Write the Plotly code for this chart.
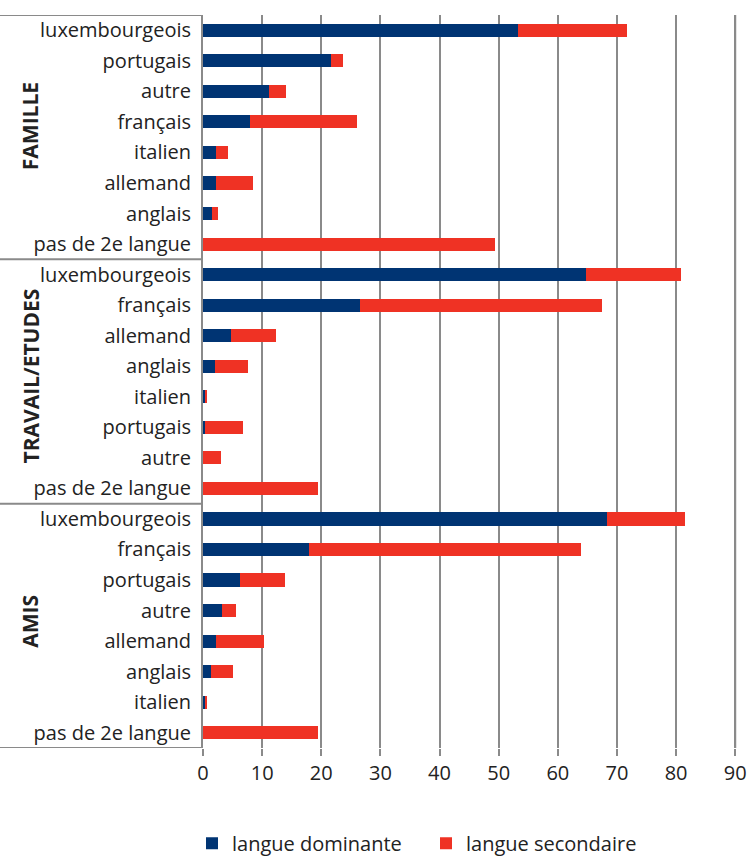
import plotly.graph_objects as go

# Groups of contexts and the languages listed in each
groups = ["FAMILLE", "TRAVAIL/ETUDES", "AMIS"]

famille_langues = ["luxembourgeois", "portugais", "autre", "français",
                   "italien", "allemand", "anglais", "pas de 2e langue"]
famille_dominante = [53.2, 21.7, 11.1, 7.9, 2.2, 2.2, 1.5, 0]
famille_secondaire = [18.5, 2.0, 2.9, 18.2, 2.0, 6.3, 1.1, 49.4]

travail_langues = ["luxembourgeois", "français", "allemand", "anglais",
                   "italien", "portugais", "autre", "pas de 2e langue"]
travail_dominante = [64.7, 26.5, 4.7, 2.0, 0.45, 0.4, 0, 0]
travail_secondaire = [16.1, 41.0, 7.6, 5.6, 0.15, 6.3, 3.1, 19.4]

amis_langues = ["luxembourgeois", "français", "portugais", "autre",
                "allemand", "anglais", "italien", "pas de 2e langue"]
amis_dominante = [68.4, 18.0, 6.2, 3.2, 2.2, 1.4, 0.5, 0]
amis_secondaire = [13.1, 45.9, 7.6, 2.3, 8.1, 3.6, 0.2, 19.5]

x_ticks = [0, 10, 20, 30, 40, 50, 60, 70, 80, 90]

labels = famille_langues + travail_langues + amis_langues
dominante = famille_dominante + travail_dominante + amis_dominante
secondaire = famille_secondaire + travail_secondaire + amis_secondaire
rows = list(range(len(labels)))
group_sizes = [len(famille_langues), len(travail_langues), len(amis_langues)]

BLUE = "#003473"
RED = "#EF3224"
GRID = "#8a8a8a"
TEXT = "#222222"
FONT = "Open Sans"

fig = go.Figure()
fig.add_trace(go.Bar(
    y=rows, x=dominante, orientation="h", name="langue dominante",
    marker=dict(color=BLUE, line=dict(width=0)),
))
fig.add_trace(go.Bar(
    y=rows, x=secondaire, orientation="h", name="langue secondaire",
    marker=dict(color=RED, line=dict(width=0)),
))

# Separator lines between the groups, drawn in the label area
plot_left, plot_right = 203, 737
plot_w = plot_right - plot_left
left_frac = -plot_left / plot_w
bounds = [-0.5]
for n in group_sizes:
    bounds.append(bounds[-1] + n)
for b in bounds:
    fig.add_shape(type="line", xref="paper", yref="y",
                  x0=left_frac, x1=0, y0=b, y1=b,
                  line=dict(color=GRID, width=2))

# Outermost gridline at the top of the value scale
fig.add_shape(type="line", xref="x", yref="paper",
              x0=x_ticks[-1], x1=x_ticks[-1], y0=0, y1=1,
              line=dict(color=GRID, width=2))

# Rotated group titles
title_shift = [11, 5, 4]
for g, lo, hi, ys in zip(groups, bounds[:-1], bounds[1:], title_shift):
    fig.add_annotation(
        text=f"<b>{g}</b>", xref="paper", yref="y",
        x=(30 - plot_left) / plot_w, y=(lo + hi) / 2, yshift=ys,
        xanchor="center", yanchor="middle", textangle=-90,
        showarrow=False, font=dict(family=FONT, size=21, color=TEXT),
    )

fig.update_layout(
    barmode="stack",
    bargap=0.57,
    width=750, height=856,
    margin=dict(l=plot_left, r=750 - plot_right, t=15, b=108,
                autoexpand=False),
    plot_bgcolor="white", paper_bgcolor="white",
    font=dict(family=FONT, size=20, color=TEXT),
    showlegend=True,
    legend=dict(
        orientation="h", traceorder="normal",
        x=(192 - plot_left) / plot_w, xanchor="left",
        y=-0.13, yanchor="middle",
        entrywidth=189, entrywidthmode="pixels",
        font=dict(family=FONT, size=20, color=TEXT),
        itemclick=False,
    ),
)
# a little headroom past 90 so its gridline sits inside the plot area
fig.update_xaxes(
    range=[0, x_ticks[-1] + 0.3], tickvals=x_ticks, showgrid=True,
    gridcolor=GRID, gridwidth=2, zeroline=False, showline=False,
    ticks="outside", ticklen=7, tickcolor=GRID, tickwidth=2,
    tickfont=dict(family=FONT, size=20, color=TEXT),
)
fig.update_yaxes(
    range=[len(labels) - 0.5, -0.5], tickvals=rows, ticktext=labels,
    showgrid=False, zeroline=False, showline=True, linecolor=GRID,
    linewidth=2, ticks="", ticklabelstandoff=6,
    tickfont=dict(family=FONT, size=20, color=TEXT),
)

fig.write_html("out.html")
